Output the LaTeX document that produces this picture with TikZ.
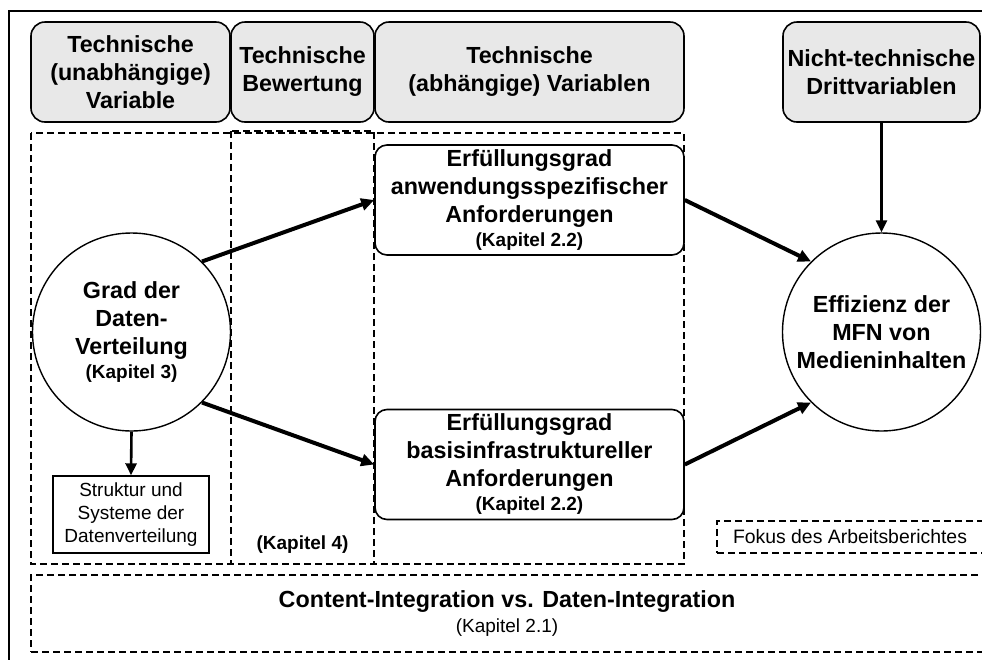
\documentclass[tikz,border=0pt]{standalone}
\usepackage{fontspec}
\setmainfont{Liberation Sans}
\usetikzlibrary{arrows.meta}

\begin{document}
\begin{tikzpicture}[x=0.5pt, y=-0.5pt,
    bigtext/.style={font=\bfseries\fontsize{11.65}{14}\selectfont},
    head/.style={draw, fill=black!9, rounded corners=7pt, line width=0.8pt, align=center, inner sep=0pt, minimum height=50pt, bigtext},
    var/.style={draw, circle, fill=white, minimum size=99pt, inner sep=0pt, align=center, line width=0.7pt, bigtext},
    req/.style={draw, fill=white, rounded corners=6pt, minimum width=154.5pt, minimum height=55pt, inner sep=0pt, align=center, line width=0.8pt, bigtext},
    zone/.style={draw, dash pattern=on 3.5pt off 2pt, line width=1.2pt},
    arr/.style={-{Triangle[length=6.5pt,width=6pt]}, line width=2pt},
    thinarr/.style={-{Triangle[length=6pt,width=5.5pt]}, line width=1.3pt}]
    \useasboundingbox (0,0) rectangle (982,660);

    % Outer frame (runs past the page)
    \draw[line width=1.4pt] (9,11) rectangle (992,672);

    % Dashed areas
    \draw[zone] (31,133) rectangle (684,564);
    \draw[zone] (231,131) rectangle (374,564);
    \node[zone, minimum width=476pt, minimum height=38.5pt, inner sep=0pt, align=center, bigtext] (integ) at (507,613.5)
        {Content-Integration vs. Daten-Integration\\[-1.5pt]{\mdseries\fontsize{9.5}{12}\selectfont (Kapitel 2.1)}};
    \node[zone, minimum width=133pt, minimum height=16pt, inner sep=0pt, font=\fontsize{9.7}{12}\selectfont] (focus) at (850,537) {Fokus des Arbeitsberichtes};

    % Header boxes
    \node[head, minimum width=99.5pt] (hIndep) at (130.5,72) {Technische\\(unabhängige)\\Variable};
    \node[head, minimum width=71.5pt] (hEval) at (302.5,72) {Technische\\Bewertung};
    \node[head, minimum width=154.5pt] (hDep) at (529.5,72) {Technische\\(abhängige) Variablen};
    \node[head, minimum width=98.5pt] (hThird) at (881.5,72) {Nicht-technische\\Drittvariablen};

    % Variables
    \node[var] (grad) at (131.5,332) {Grad der\\Daten-\\Verteilung\\[-2pt]{\fontsize{9.5}{12}\selectfont (Kapitel 3)}};
    \node[var] (eff) at (881.5,332) {Effizienz der\\MFN von\\Medieninhalten};

    % Requirements
    \node[req] (anw) at (529.5,200) {Erfüllungsgrad\\anwendungsspezifischer\\Anforderungen\\[-2pt]{\fontsize{9.5}{12}\selectfont (Kapitel 2.2)}};
    \node[req] (basis) at (529.5,464.5) {Erfüllungsgrad\\basisinfrastruktureller\\Anforderungen\\[-2pt]{\fontsize{9.5}{12}\selectfont (Kapitel 2.2)}};

    \node[draw, line width=0.7pt, minimum width=78pt, minimum height=38.5pt, inner sep=0pt, align=center, font=\fontsize{9.5}{11.3}\selectfont] (struk) at (131,514.5) {Struktur und\\Systeme der\\Datenverteilung};
    \node[font=\bfseries\fontsize{9.5}{12}\selectfont] (ch4) at (302.5,545) {(Kapitel 4)};

    % Arrows
    \draw[arr] (grad.45) -- (anw.west);
    \draw[arr] (grad.-45) -- (basis.west);
    \draw[arr] (anw.east) -- (eff.135);
    \draw[arr] (basis.east) -- (eff.-135);
    \draw[thinarr] (hThird.south) -- (eff.north);
    \draw[thinarr] (grad.south) -- (struk.north);
\end{tikzpicture}
\end{document}
